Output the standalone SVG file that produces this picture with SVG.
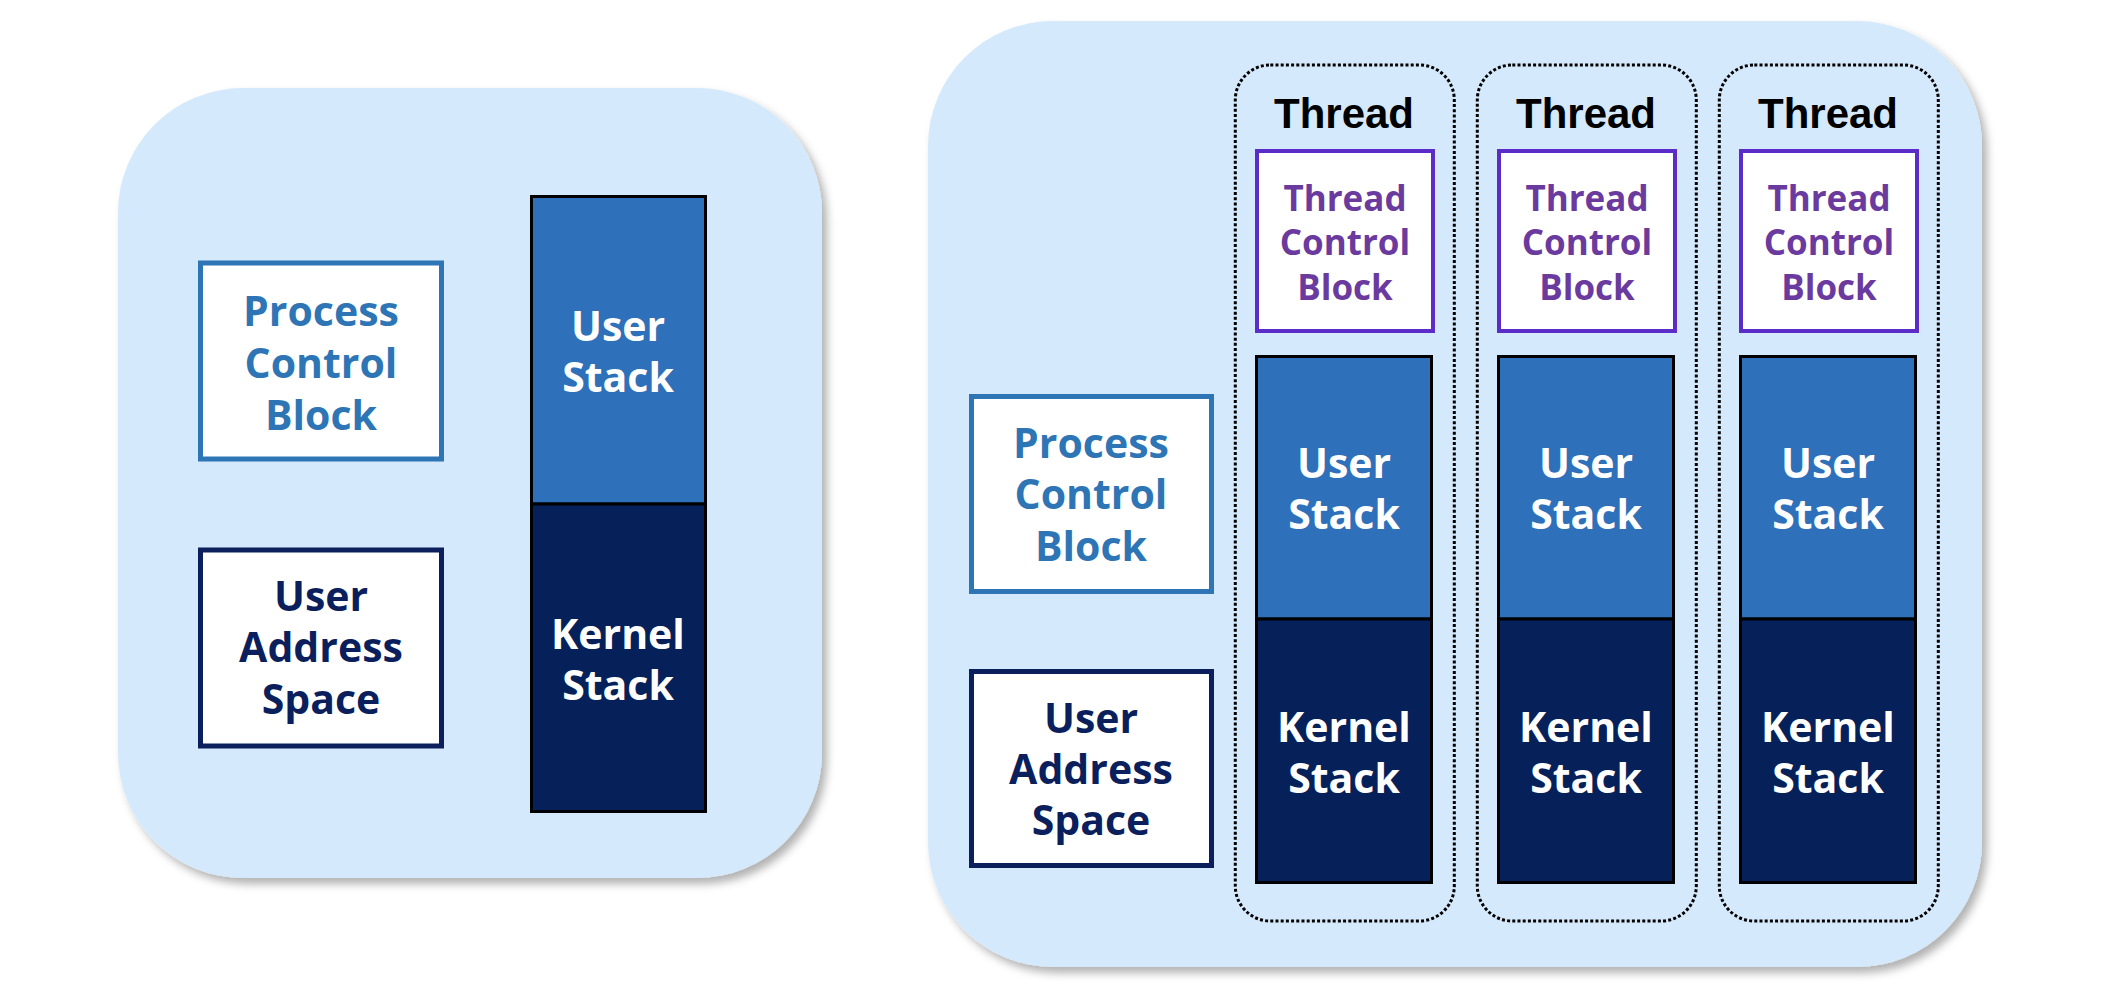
<svg xmlns="http://www.w3.org/2000/svg" width="2114" height="986" viewBox="0 0 2114 986">
  <defs>
    <filter id="shadow" x="-5%" y="-5%" width="115%" height="115%">
      <feDropShadow dx="5" dy="6" stdDeviation="4" flood-color="#000" flood-opacity="0.3"/>
    </filter>
    <style>
      .panel { fill: #D4E9FB; filter: url(#shadow); }
      .pcb { fill: #FFFFFF; stroke: #2E75B6; stroke-width: 5; }
      .uas { fill: #FFFFFF; stroke: #0B1F5C; stroke-width: 5; }
      .tcb { fill: #FFFFFF; stroke: #5B2CC8; stroke-width: 4; }
      .ustack { fill: #2E70B9; stroke: #000; stroke-width: 3; }
      .kstack { fill: #06215A; stroke: #000; stroke-width: 3; }
      .thread { fill: none; stroke: #000; stroke-width: 3; stroke-dasharray: 3 2.2; }
      .t { font-family: "Open Sans", "Noto Sans", sans-serif; font-weight: bold; font-size: 41px; text-anchor: middle; }
      .ts { font-family: "Open Sans", "Noto Sans", sans-serif; font-weight: bold; font-size: 35px; text-anchor: middle; fill: #6A3A9E; }
      .th { font-family: "Liberation Sans", Arial, sans-serif; font-weight: bold; font-size: 42px; text-anchor: middle; fill: #000; }
      .cpcb { fill: #2E75B6; }
      .cuas { fill: #0B1F5C; }
      .cw { fill: #FFFFFF; }
    </style>
  </defs>

  <!-- Left panel: single-threaded process -->
  <g id="left-panel">
    <rect class="panel" x="118" y="88" width="704" height="790" rx="125" ry="125"/>
  </g>
  <g id="left-pcb">
    <rect class="pcb" x="200.5" y="263" width="241" height="196"/>
    <text class="t cpcb" x="321" y="326">Process</text>
    <text class="t cpcb" x="321" y="378">Control</text>
    <text class="t cpcb" x="321" y="430">Block</text>
  </g>
  <g id="left-uas">
    <rect class="uas" x="200.5" y="550" width="241" height="196"/>
    <text class="t cuas" x="321" y="611">User</text>
    <text class="t cuas" x="321" y="662">Address</text>
    <text class="t cuas" x="321" y="714">Space</text>
  </g>
  <g id="left-user-stack">
    <rect class="ustack" x="531.5" y="196.5" width="174" height="307.5"/>
    <text class="t cw" x="618" y="341">User</text>
    <text class="t cw" x="618" y="392">Stack</text>
  </g>
  <g id="left-kernel-stack">
    <rect class="kstack" x="531.5" y="504" width="174" height="307.5"/>
    <text class="t cw" x="618" y="649">Kernel</text>
    <text class="t cw" x="618" y="700">Stack</text>
  </g>

  <!-- Right panel: multi-threaded process -->
  <g id="right-panel">
    <rect class="panel" x="928" y="21" width="1054" height="946" rx="125" ry="125"/>
  </g>
  <g id="right-pcb">
    <rect class="pcb" x="971.5" y="396.5" width="240" height="195"/>
    <text class="t cpcb" x="1091" y="458">Process</text>
    <text class="t cpcb" x="1091" y="509">Control</text>
    <text class="t cpcb" x="1091" y="561">Block</text>
  </g>
  <g id="right-uas">
    <rect class="uas" x="971.5" y="671.5" width="240" height="194"/>
    <text class="t cuas" x="1091" y="733">User</text>
    <text class="t cuas" x="1091" y="784">Address</text>
    <text class="t cuas" x="1091" y="835">Space</text>
  </g>

  <g id="thread-1">
    <rect class="thread" x="1235.3" y="65" width="219" height="856" rx="35" ry="35"/>
    <text class="th" x="1344" y="128">Thread</text>
    <rect class="tcb" x="1257" y="151" width="176" height="180"/>
    <text class="ts" x="1345" y="211">Thread</text>
    <text class="ts" x="1345" y="255">Control</text>
    <text class="ts" x="1345" y="300">Block</text>
    <rect class="ustack" x="1256.5" y="356.5" width="175" height="262.5"/>
    <text class="t cw" x="1344" y="478">User</text>
    <text class="t cw" x="1344" y="529">Stack</text>
    <rect class="kstack" x="1256.5" y="619" width="175" height="263.5"/>
    <text class="t cw" x="1344" y="742">Kernel</text>
    <text class="t cw" x="1344" y="793">Stack</text>
  </g>

  <g id="thread-2">
    <rect class="thread" x="1477.3" y="65" width="219" height="856" rx="35" ry="35"/>
    <text class="th" x="1586" y="128">Thread</text>
    <rect class="tcb" x="1499" y="151" width="176" height="180"/>
    <text class="ts" x="1587" y="211">Thread</text>
    <text class="ts" x="1587" y="255">Control</text>
    <text class="ts" x="1587" y="300">Block</text>
    <rect class="ustack" x="1498.5" y="356.5" width="175" height="262.5"/>
    <text class="t cw" x="1586" y="478">User</text>
    <text class="t cw" x="1586" y="529">Stack</text>
    <rect class="kstack" x="1498.5" y="619" width="175" height="263.5"/>
    <text class="t cw" x="1586" y="742">Kernel</text>
    <text class="t cw" x="1586" y="793">Stack</text>
  </g>

  <g id="thread-3">
    <rect class="thread" x="1719.3" y="65" width="219" height="856" rx="35" ry="35"/>
    <text class="th" x="1828" y="128">Thread</text>
    <rect class="tcb" x="1741" y="151" width="176" height="180"/>
    <text class="ts" x="1829" y="211">Thread</text>
    <text class="ts" x="1829" y="255">Control</text>
    <text class="ts" x="1829" y="300">Block</text>
    <rect class="ustack" x="1740.5" y="356.5" width="175" height="262.5"/>
    <text class="t cw" x="1828" y="478">User</text>
    <text class="t cw" x="1828" y="529">Stack</text>
    <rect class="kstack" x="1740.5" y="619" width="175" height="263.5"/>
    <text class="t cw" x="1828" y="742">Kernel</text>
    <text class="t cw" x="1828" y="793">Stack</text>
  </g>

  <g id="connectors"></g>
</svg>
